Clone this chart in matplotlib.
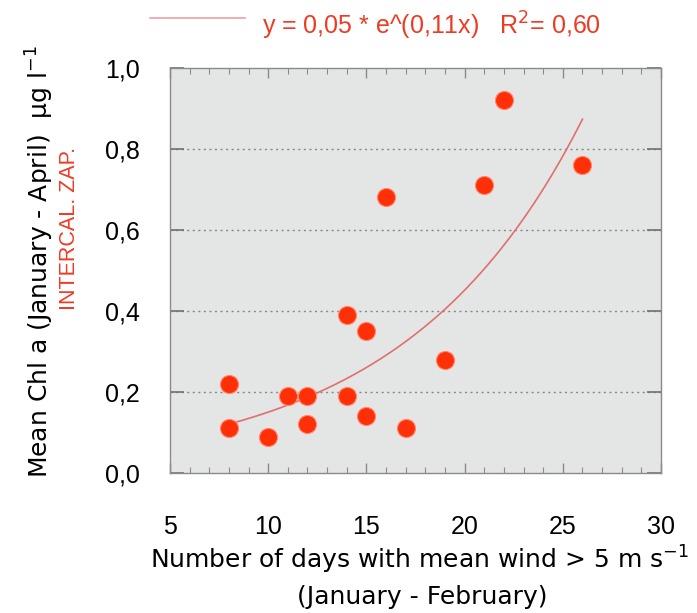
import numpy as np
import matplotlib
matplotlib.use("Agg")
import matplotlib.pyplot as plt
from matplotlib.ticker import MultipleLocator

plt.rcParams['font.family'] = ['Liberation Sans', 'DejaVu Sans']

# data
wind_days = [8, 8, 10, 11, 12, 12, 14, 14, 15, 15, 16, 17, 19, 21, 22, 26]
chl_a = [0.22, 0.11, 0.09, 0.19, 0.19, 0.12, 0.39, 0.19, 0.35, 0.14, 0.68, 0.11, 0.28, 0.71, 0.92, 0.76]

fit_a = 0.05
fit_b = 0.11
fit_range = [8, 26]

x_ticks = [5, 10, 15, 20, 25, 30]
x_ticklabels = ["5", "10", "15", "20", "25", "30"]
y_ticks = [0.0, 0.2, 0.4, 0.6, 0.8, 1.0]
y_ticklabels = ["0,0", "0,2", "0,4", "0,6", "0,8", "1,0"]

red = "#ff3008"
fit_col = "#e07070"
txt_red = "#ee3b24"

fig = plt.figure(figsize=(6.97, 6.13), dpi=100)
ax = fig.add_axes([0.2439, 0.2284, 0.7045, 0.661])
ax.set_facecolor("#e4e5e5")

# fitted curve
xf = np.linspace(fit_range[0], fit_range[1], 200)
ax.plot(xf, fit_a * np.exp(fit_b * xf), color=fit_col, lw=1.2, zorder=2)

ax.scatter(wind_days, chl_a, s=170, color=red, edgecolors="#ff8a70", linewidths=0.8, zorder=3)

ax.set_xlim(5, 30)
ax.set_ylim(0, 1.0)
ax.set_xticks(x_ticks)
ax.set_xticklabels(x_ticklabels)
ax.set_yticks(y_ticks)
ax.set_yticklabels(y_ticklabels)
ax.xaxis.set_minor_locator(MultipleLocator(1))

for s in ax.spines.values():
    s.set_color("#8a8a8a")
    s.set_linewidth(1.0)

ax.tick_params(axis="x", which="major", direction="in", length=7, width=1, color="#8a8a8a",
               top=True, bottom=True, labelsize=18, pad=30)
ax.tick_params(axis="x", which="minor", direction="in", length=4.5, width=0.8, color="#8a8a8a",
               top=True, bottom=True)
ax.tick_params(axis="y", which="major", direction="in", length=10, width=1.2, color="#707070",
               left=True, right=True, labelsize=18, pad=22)

for y in y_ticks[1:-1]:
    ax.axhline(y, color="#888888", lw=1.0, ls=(0, (1.5, 2.5)), zorder=1)

# axis titles (Verdana-like font)
fig.text(0.602, 0.072, "Number of days with mean wind > 5 m s$^{-1}$", family="DejaVu Sans",
         fontsize=18, ha="center", va="baseline")
fig.text(0.606, 0.026, "(January - February)", family="DejaVu Sans",
         fontsize=18, ha="center", va="center")
fig.text(0.0574, 0.573, "Mean Chl a (January - April)  µg l$^{-1}$", family="DejaVu Sans",
         fontsize=18, rotation=90, ha="center", va="center")
fig.text(0.1004, 0.628, "INTERCAL. ZAP.", rotation=90, color=txt_red, fontsize=15.5,
         ha="center", va="center")

# legend-like line and equation above the plot
fig.add_artist(plt.Line2D([0.215, 0.352], [0.971, 0.971], color="#f0a0a0", lw=1.2))
fig.text(0.376, 0.958, "y = 0,05 * e^(0,11x)   R$^2$= 0,60", color=txt_red, fontsize=18,
         ha="left", va="center")

fig.savefig("out.png", dpi=100)
